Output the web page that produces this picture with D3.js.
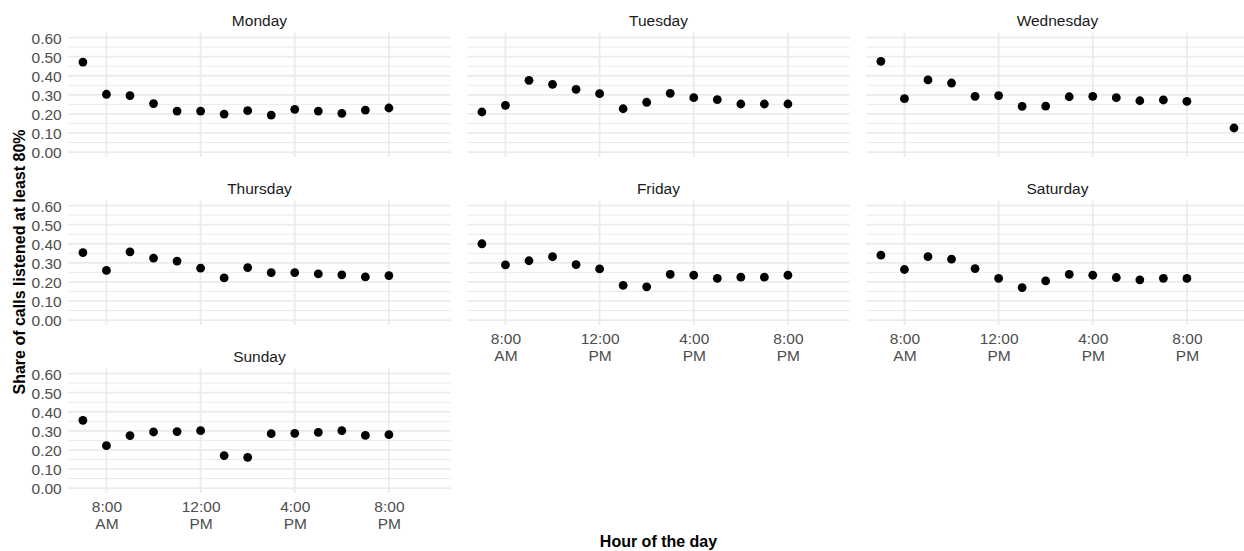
<!DOCTYPE html>
<html>
<head>
<meta charset="utf-8">
<script src="https://cdnjs.cloudflare.com/ajax/libs/d3/7.8.5/d3.min.js"></script>
<style>
  body { margin: 0; background: #fff; }
  svg text { font-family: "Liberation Sans", Arial, Helvetica, sans-serif; }
</style>
</head>
<body>
<div id="chart"></div>
<script>
// data
var days = ["Monday", "Tuesday", "Wednesday", "Thursday", "Friday", "Saturday", "Sunday"]
var hours = [7, 8, 9, 10, 11, 12, 13, 14, 15, 16, 17, 18, 19, 20]
var wednesdayHours = [7, 8, 9, 10, 11, 12, 13, 14, 15, 16, 17, 18, 19, 20, 22]

var monday    = [0.472, 0.303, 0.296, 0.254, 0.215, 0.215, 0.199, 0.217, 0.194, 0.224, 0.215, 0.203, 0.220, 0.231]
var tuesday   = [0.210, 0.245, 0.376, 0.355, 0.329, 0.306, 0.227, 0.261, 0.308, 0.285, 0.275, 0.252, 0.252, 0.252]
var wednesday = [0.476, 0.280, 0.378, 0.362, 0.292, 0.296, 0.240, 0.241, 0.290, 0.292, 0.285, 0.269, 0.273, 0.266, 0.126]
var thursday  = [0.354, 0.260, 0.358, 0.325, 0.309, 0.272, 0.221, 0.275, 0.249, 0.249, 0.242, 0.237, 0.226, 0.233]
var friday    = [0.400, 0.289, 0.311, 0.332, 0.291, 0.268, 0.182, 0.174, 0.240, 0.235, 0.219, 0.225, 0.225, 0.235]
var saturday  = [0.340, 0.265, 0.333, 0.319, 0.270, 0.219, 0.170, 0.205, 0.240, 0.235, 0.223, 0.211, 0.219, 0.218]
var sunday    = [0.355, 0.222, 0.275, 0.294, 0.296, 0.301, 0.170, 0.161, 0.285, 0.287, 0.292, 0.301, 0.276, 0.280]

var dayValues = [monday, tuesday, wednesday, thursday, friday, saturday, sunday]
var dayHours = [hours, hours, wednesdayHours, hours, hours, hours, hours]

var xTicks = [8, 12, 16, 20]
var xTickLabels = [["8:00", "AM"], ["12:00", "PM"], ["4:00", "PM"], ["8:00", "PM"]]
var yTicks = [0, 0.1, 0.2, 0.3, 0.4, 0.5, 0.6]
var yMinor = [0.05, 0.15, 0.25, 0.35, 0.45, 0.55]

// layout
var width = 1244, height = 551
var panelW = 382.5, panelH = 124.5
var colX = [68.2, 467.2, 866.2]
var rowY = [32.3, 200.3, 368.3]

var svg = d3.select("#chart")
  .append("svg")
    .attr("width", width)
    .attr("height", height)

var x = d3.scaleLinear()
  .domain([6.375, 22.625])
  .range([0, panelW])

var y = d3.scaleLinear()
  .domain([-0.025, 0.628])
  .range([panelH, 0])

days.forEach(function(day, i) {
  var col = i % 3
  var row = Math.floor(i / 3)
  var g = svg.append("g")
    .attr("transform", "translate(" + colX[col] + "," + rowY[row] + ")")

  // grid
  g.selectAll(".minor")
    .data(yMinor)
    .enter()
    .append("line")
    .attr("x1", 0).attr("x2", panelW)
    .attr("y1", d => y(d)).attr("y2", d => y(d))
    .attr("stroke", "#EBEBEB")
    .attr("stroke-width", 1)

  g.selectAll(".major")
    .data(yTicks)
    .enter()
    .append("line")
    .attr("x1", 0).attr("x2", panelW)
    .attr("y1", d => y(d)).attr("y2", d => y(d))
    .attr("stroke", "#EBEBEB")
    .attr("stroke-width", 1.8)

  g.selectAll(".vgrid")
    .data(xTicks)
    .enter()
    .append("line")
    .attr("x1", d => x(d)).attr("x2", d => x(d))
    .attr("y1", 0).attr("y2", panelH)
    .attr("stroke", "#EBEBEB")
    .attr("stroke-width", 1.8)

  // strip title
  g.append("text")
    .attr("x", panelW / 2)
    .attr("y", -6.5)
    .attr("text-anchor", "middle")
    .style("font-size", "15.5px")
    .style("fill", "#1A1A1A")
    .text(day)

  // y axis only on the first column
  if (col == 0) {
    var ya = g.append("g")
      .call(d3.axisLeft(y).tickValues(yTicks).tickSize(0).tickPadding(6.5).tickFormat(d3.format(".2f")))
    ya.select(".domain").remove()
    ya.selectAll("text")
      .attr("dy", "0.36em")
      .style("font-size", "15.5px")
      .style("fill", "#4D4D4D")
      .style("font-family", null)
  }

  // x axis on the last panel of each column
  if (i >= 4) {
    var xa = g.append("g")
      .attr("transform", "translate(0," + panelH + ")")
      .call(d3.axisBottom(x).tickValues(xTicks).tickSize(0).tickFormat(""))
    xa.select(".domain").remove()
    xa.selectAll(".tick text")
      .attr("y", 0)
      .attr("dy", null)
      .style("font-size", "15.5px")
      .style("fill", "#4D4D4D")
      .style("font-family", null)
      .each(function(d, j) {
        var t = d3.select(this)
        t.append("tspan").attr("x", 0).attr("y", 19.2).text(xTickLabels[j][0])
        t.append("tspan").attr("x", 0).attr("y", 36.7).text(xTickLabels[j][1])
      })
  }

  // points
  var pts = dayHours[i].map(function(h, k) { return {hour: h, value: dayValues[i][k]} })
  g.selectAll("circle")
    .data(pts)
    .enter()
    .append("circle")
    .attr("cx", d => x(d.hour))
    .attr("cy", d => y(d.value))
    .attr("r", 4.4)
    .style("fill", "#000")
})

// axis titles
svg.append("text")
  .attr("x", 658.5)
  .attr("y", 546.7)
  .attr("text-anchor", "middle")
  .style("font-size", "16px")
  .style("font-weight", "bold")
  .text("Hour of the day")

svg.append("text")
  .attr("transform", "translate(25,262) rotate(-90)")
  .attr("text-anchor", "middle")
  .style("font-size", "16px")
  .style("font-weight", "bold")
  .text("Share of calls listened at least 80%")
</script>
</body>
</html>
